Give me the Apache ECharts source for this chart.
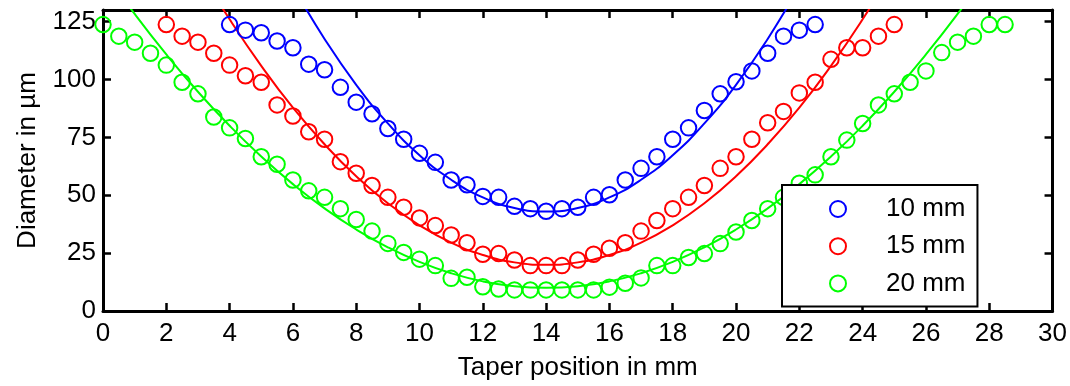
<!DOCTYPE html>
<html><head><meta charset="utf-8">
<script src="https://cdn.jsdelivr.net/npm/echarts@6/dist/echarts.min.js"></script>
<style>html,body{margin:0;padding:0;background:#fff}#c{width:1070px;height:386px}</style>
</head><body><div id="c"></div>
<script>
// Measured data (circles)
const x10 = [4,4.5,5,5.5,6,6.5,7,7.5,8,8.5,9,9.5,10,10.5,11,11.5,12,12.5,13,13.5,14,14.5,15,15.5,16,16.5,17,17.5,18,18.5,19,19.5,20,20.5,21,21.5,22,22.5];
const y10 = [123.7,121.3,120.2,116.6,113.7,106.6,104.2,96.6,90.2,85.2,78.8,74.2,68.1,64.2,56.6,54.5,49.5,49.1,45.2,44.2,43.1,44.2,44.8,49.1,50.2,56.6,61.6,66.6,74.2,79.1,86.6,93.8,99,103.7,111.3,118.7,121.3,123.7];
const x15 = [2,2.5,3,3.5,4,4.5,5,5.5,6,6.5,7,7.5,8,8.5,9,9.5,10,10.5,11,11.5,12,12.5,13,13.5,14,14.5,15,15.5,16,16.5,17,17.5,18,18.5,19,19.5,20,20.5,21,21.5,22,22.5,23,23.5,24,24.5,25];
const y15 = [123.7,118.7,116.1,111.3,106.2,101.6,98.8,89,84.2,77.4,74.2,64.5,59.5,54.2,49.1,44.8,40.2,36.9,32.8,29.5,24.5,24.8,22,19.6,19.6,19.6,22,24.5,27.1,29.5,34.5,39.1,44.2,49.1,54.2,61.6,66.6,74.2,81.3,86.2,94.2,98.8,108.7,113.7,113.7,118.7,123.7];
const x20 = [0,0.5,1,1.5,2,2.5,3,3.5,4,4.5,5,5.5,6,6.5,7,7.5,8,8.5,9,9.5,10,10.5,11,11.5,12,12.5,13,13.5,14,14.5,15,15.5,16,16.5,17,17.5,18,18.5,19,19.5,20,20.5,21,21.5,22,22.5,23,23.5,24,24.5,25,25.5,26,26.5,27,27.5,28,28.5];
const y20 = [123.7,118.7,116.1,111.3,106.2,98.8,93.8,83.8,79.1,74.5,66.6,63.4,56.6,51.9,49.1,44.2,39.5,34.5,29.2,25.3,22.4,19.6,14.1,14.6,10.5,9.5,9.1,9.1,9.1,9.1,9.1,9.1,10.3,12.0,14.3,19.6,19.6,23.1,24.8,29.1,34.1,39.1,44.2,49.1,55.2,58.8,66.6,73.8,81,89,93.8,98.8,103.7,111.6,116.1,118.7,123.7,123.7];
// Fitted curves
const fx10 = [6,7,8,9,10,11,12,13,14,15,16,17,18,19,20,21,22];
const fy10 = [140.3,117.5,97.7,81,67.3,56.7,49.1,44.5,43,44.5,49.1,56.7,67.3,81,97.7,117.5,140.3];
const fx15 = [3,4,5,6,7,8,9,10,11,12,13,14,15,16,17,18,19,20,21,22,23,24,25];
const fy15 = [148,126,105.9,87.8,72,58.2,46.5,37,29.5,24.2,21,20,21,24.2,29.5,37,46.5,58.2,72,87.8,105.9,126,148];
const fx20 = [0,1,2,3,4,5,6,7,8,9,10,11,12,13,14,15,16,17,18,19,20,21,22,23,24,25,26,27,28];
const fy20 = [147.2,128.3,110.8,94.7,80,66.7,54.8,44.3,35.2,27.5,21.2,16.3,12.8,10.7,10,10.7,12.8,16.3,21.2,27.5,35.2,44.3,54.8,66.7,80,94.7,110.8,128.3,147.2];
const names = ['10 mm','15 mm','20 mm'];
const colors = ['#0000ff','#ff0000','#00ff00'];

const zip = (a,b) => a.map((v,i)=>[v,b[i]]);
const FONT = 'Liberation Sans';
const FS = 26;
const circ = [[x10,y10],[x15,y15],[x20,y20]];
const fits = [[fx10,fy10],[fx15,fy15],[fx20,fy20]];
const series = [];
fits.forEach((f,i)=>series.push({
  type:'line', name: names[i]+' fit', data: zip(f[0],f[1]), smooth:true, showSymbol:false,
  clip:true, lineStyle:{color:colors[i], width:2}, itemStyle:{color:colors[i]}, z:2, silent:true
}));
circ.forEach((c,i)=>series.push({
  type:'scatter', name: names[i], data: zip(c[0],c[1]), symbol:'circle', symbolSize:15.5,
  itemStyle:{color:'rgba(0,0,0,0)', borderColor:colors[i], borderWidth:2, opacity:1}, z:3
}));
const axLine = {show:true, onZero:false, lineStyle:{color:'#000', width:3}};
const tick = {show:true, inside:true, length:8, lineStyle:{color:'#000', width:2.5}};
const chart = echarts.init(document.getElementById('c'));
chart.setOption({
  animation:false,
  backgroundColor:'#fff',
  textStyle:{fontFamily:FONT},
  grid:{left:103, right:17, top:10, bottom:72},
  legend:{
    data:names, orient:'vertical', left:782, top:185,
    padding:[11,12,10,47], itemGap:11.2, itemWidth:16, itemHeight:16,
    backgroundColor:'#fff', borderColor:'#000', borderWidth:2,
    textStyle:{fontFamily:FONT, fontSize:FS, color:'#000', lineHeight:26, padding:[0,0,0,35]}
  },
  xAxis:[
    {type:'value', min:0, max:30, interval:2, position:'bottom',
     name:'Taper position in mm', nameLocation:'middle', nameGap:44,
     nameTextStyle:{fontFamily:FONT, fontSize:FS, color:'#000'},
     axisLine:axLine, axisTick:tick, splitLine:{show:false},
     axisLabel:{fontFamily:FONT, fontSize:FS, color:'#000', margin:10}},
    {type:'value', min:0, max:30, interval:2, position:'top',
     axisLine:axLine, axisTick:tick, splitLine:{show:false}, axisLabel:{show:false}}
  ],
  yAxis:[
    {type:'value', min:0, max:130, interval:25, position:'left',
     name:'Diameter in µm', nameLocation:'middle', nameGap:62, nameRotate:90,
     nameTextStyle:{fontFamily:FONT, fontSize:FS, color:'#000'},
     axisLine:axLine, axisTick:tick, splitLine:{show:false},
     axisLabel:{fontFamily:FONT, fontSize:FS, color:'#000', margin:7, showMaxLabel:false,
       formatter:v=> (v%25===0 ? String(v) : '')}},
    {type:'value', min:0, max:130, interval:25, position:'right',
     axisLine:axLine, axisTick:tick, splitLine:{show:false}, axisLabel:{show:false}}
  ],
  series:series
});
</script></body></html>
